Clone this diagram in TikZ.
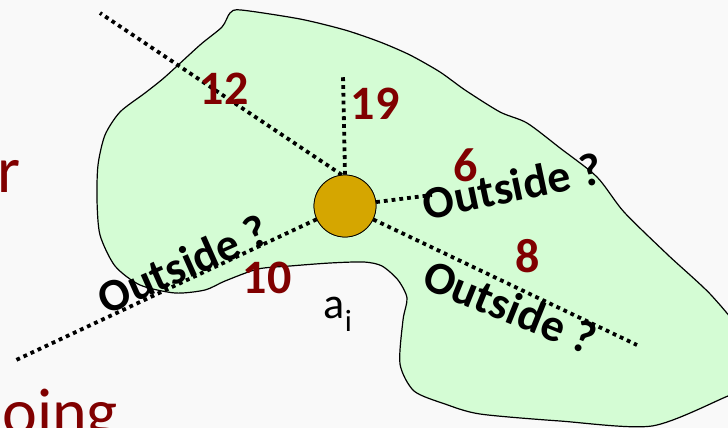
\documentclass[tikz,border=0pt]{standalone}
\usepackage{fontspec}
\setmainfont{Carlito}
\usetikzlibrary{positioning,calc}
\definecolor{darkred}{HTML}{800000}
\definecolor{blobgreen}{HTML}{D4FCD4}
\definecolor{dotgold}{HTML}{D5A600}
\definecolor{slidebg}{HTML}{F9F9F9}
\tikzset{every picture/.style={line width=0.75pt}}
\tikzset{
  ray/.style={line width=3.8pt, dash pattern=on 3.8pt off 4pt, black},
  dist/.style={text=darkred, font=\fontsize{48}{48}\selectfont\bfseries, inner sep=0pt},
  outside/.style={font=\fontsize{46}{46}\selectfont\bfseries, inner sep=0pt},
  slide/.style={text=darkred, font=\fontsize{66}{66}\selectfont, inner sep=0pt, anchor=base west}
}

\begin{document}
\begin{tikzpicture}[x=1pt, y=-1pt]
    \fill[slidebg] (0,0) rectangle (728,428);
    \useasboundingbox (0,0) rectangle (728,428);
    \clip (0,0) rectangle (728,428);
    % background slide text
    \node[slide] (r) at (-3,192) {r};
    \node[slide] (oing) at (2,434) {oing};
    % the region
    \draw[fill=blobgreen, line width=1.2pt] plot[smooth cycle, tension=0.45] coordinates {
        (241,10) (300,19) (345,30) (380,42) (410,55) (440,72) (465,90)
        (500,112) (527,123) (560,148) (597,177) (624,212) (668,255)
        (712,296) (745,340) (745,390) (728,396) (652,426) (560,421)
        (480,414) (445,404) (414,391) (400,364) (403,320) (407,298)
        (398,280) (382,266) (364,262) (330,263) (290,266) (258,269)
        (225,281) (205,290) (175,293) (140,285) (115,266) (100,235)
        (97,200) (98,165) (105,135) (120,112) (145,93) (165,77)
        (200,45) (222,27) (230,13)};
    % the point and its rays
    \node[circle, draw, fill=dotgold, minimum size=62pt, inner sep=0pt] (c) at (345,206) {};
    \coordinate (up) at (343,75);
    \coordinate (ul) at (100,13);
    \coordinate (ri) at (432,195);
    \coordinate (lr) at (637,345);
    \coordinate (ll) at (14,361);
    \draw[ray] (c.north) -- (up);
    \draw[ray] (c.96) -- (ul);
    \draw[ray] (c) -- (ri);
    \draw[ray] (c) -- (lr);
    \draw[ray] (c) -- (ll);
    \node[circle, draw, fill=dotgold, minimum size=62pt, inner sep=0pt] at (c) {};
    % distances
    \node[dist] (d12) at (224,89) {12};
    \node[dist] (d19) at (375,104) {19};
    \node[dist] (d6) at (466,165) {6};
    \node[dist] (d8) at (528,256) {8};
    \node[dist] (d10) at (267,278) {10};
    \node[font=\fontsize{44}{44}\selectfont, inner sep=0pt] (ai) at (338,314) {a\textsubscript{i}};
    % ray labels
    \node[outside, rotate=12] (o1) at (512,186) {Outside ?};
    \node[outside, rotate=24] (o2) at (183,264) {Outside ?};
    \node[outside, rotate=-22] (o3) at (510,307) {Outside ?};
\end{tikzpicture}
\end{document}
